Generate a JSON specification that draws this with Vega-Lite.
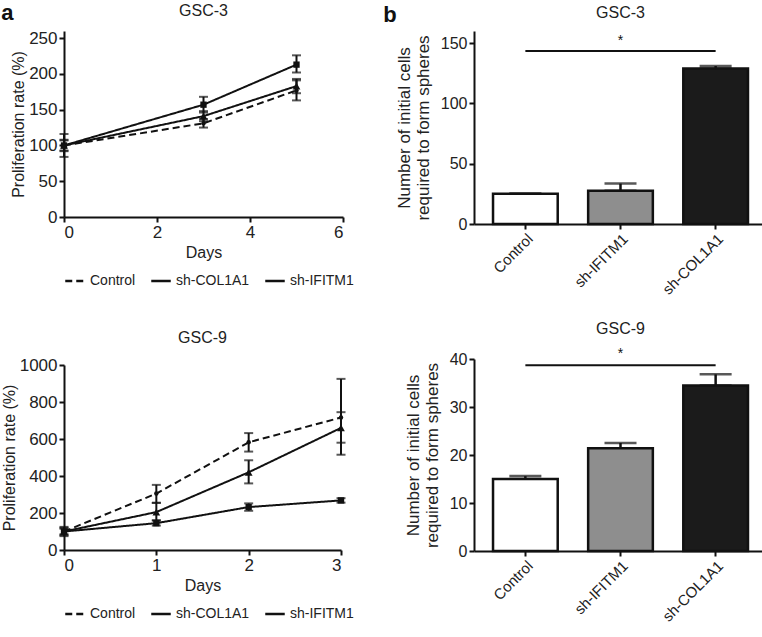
{
  "$schema": "https://vega.github.io/schema/vega-lite/v6.json",
  "background": "white",
  "padding": {"left": 1, "top": 2, "right": 0, "bottom": 2},
  "config": {
    "font": "Liberation Sans",
    "view": {"stroke": null},
    "axis": {"grid": false, "domainColor": "#111", "domainWidth": 2, "tickColor": "#111", "tickWidth": 2, "tickSize": 5, "labelColor": "#222", "titleColor": "#222", "labelFontSize": 17, "titleFontSize": 16, "titleFontWeight": "normal", "labelPadding": 2},
    "title": {"fontSize": 16, "fontWeight": "normal", "color": "#222", "offset": 10},
    "legend": {"labelFontSize": 14, "labelColor": "#222"}
  },
  "datasets": {
    "lines": [
      {"panel": "GSC-3", "series": "Control", "day": 0, "mean": 100, "lo": 92, "hi": 108},
      {"panel": "GSC-3", "series": "Control", "day": 3, "mean": 131, "lo": 125, "hi": 137},
      {"panel": "GSC-3", "series": "Control", "day": 5, "mean": 177, "lo": 163, "hi": 191},
      {"panel": "GSC-3", "series": "sh-COL1A1", "day": 0, "mean": 100, "lo": 93, "hi": 107},
      {"panel": "GSC-3", "series": "sh-COL1A1", "day": 3, "mean": 157, "lo": 146, "hi": 168},
      {"panel": "GSC-3", "series": "sh-COL1A1", "day": 5, "mean": 213, "lo": 202, "hi": 226},
      {"panel": "GSC-3", "series": "sh-IFITM1", "day": 0, "mean": 100, "lo": 84, "hi": 116},
      {"panel": "GSC-3", "series": "sh-IFITM1", "day": 3, "mean": 141, "lo": 134, "hi": 148},
      {"panel": "GSC-3", "series": "sh-IFITM1", "day": 5, "mean": 183, "lo": 173, "hi": 193},
      {"panel": "GSC-9", "series": "Control", "day": 0, "mean": 100, "lo": 75, "hi": 125},
      {"panel": "GSC-9", "series": "Control", "day": 1, "mean": 305, "lo": 255, "hi": 352},
      {"panel": "GSC-9", "series": "Control", "day": 2, "mean": 582, "lo": 532, "hi": 632},
      {"panel": "GSC-9", "series": "Control", "day": 3, "mean": 716, "lo": 515, "hi": 925},
      {"panel": "GSC-9", "series": "sh-COL1A1", "day": 0, "mean": 100, "lo": 85, "hi": 115},
      {"panel": "GSC-9", "series": "sh-COL1A1", "day": 1, "mean": 145, "lo": 132, "hi": 160},
      {"panel": "GSC-9", "series": "sh-COL1A1", "day": 2, "mean": 232, "lo": 212, "hi": 252},
      {"panel": "GSC-9", "series": "sh-COL1A1", "day": 3, "mean": 268, "lo": 256, "hi": 280},
      {"panel": "GSC-9", "series": "sh-IFITM1", "day": 0, "mean": 100, "lo": 80, "hi": 120},
      {"panel": "GSC-9", "series": "sh-IFITM1", "day": 1, "mean": 205, "lo": 160, "hi": 255},
      {"panel": "GSC-9", "series": "sh-IFITM1", "day": 2, "mean": 420, "lo": 360, "hi": 485},
      {"panel": "GSC-9", "series": "sh-IFITM1", "day": 3, "mean": 660, "lo": 580, "hi": 745}
    ],
    "bars": [
      {"panel": "GSC-3", "group": "Control", "mean": 25, "hi": 25},
      {"panel": "GSC-3", "group": "sh-IFITM1", "mean": 27.5, "hi": 33.5},
      {"panel": "GSC-3", "group": "sh-COL1A1", "mean": 129, "hi": 131},
      {"panel": "GSC-9", "group": "Control", "mean": 15, "hi": 15.6},
      {"panel": "GSC-9", "group": "sh-IFITM1", "mean": 21.4, "hi": 22.5},
      {"panel": "GSC-9", "group": "sh-COL1A1", "mean": 34.5, "hi": 36.8}
    ],
    "sig": [
      {"panel": "GSC-3", "from": "Control", "to": "sh-COL1A1", "mid": "sh-IFITM1", "y": 143.5, "ystar": 146, "label": "*"},
      {"panel": "GSC-9", "from": "Control", "to": "sh-COL1A1", "mid": "sh-IFITM1", "y": 38.7, "ystar": 39.6, "label": "*"}
    ]
  },
  "hconcat": [
    {
      "title": {"text": "a", "anchor": "start", "fontSize": 22, "fontWeight": "bold", "color": "#111", "offset": -22},
      "spacing": 42,
      "resolve": {"scale": {"strokeDash": "independent"}, "legend": {"strokeDash": "independent"}},
      "vconcat": [
        {
          "title": "GSC-3",
          "width": 279, "height": 186,
          "data": {"name": "lines"},
          "transform": [{"filter": "datum.panel === 'GSC-3'"}],
          "layer": [
            {
              "mark": {"type": "errorbar", "ticks": {"size": 9}, "thickness": 2, "color": "#111"},
              "encoding": {
                "x": {"field": "day", "type": "quantitative", "title": "Days", "scale": {"domain": [0, 6]}, "axis": {"values": [0, 2, 4, 6]}},
                "y": {"field": "lo", "type": "quantitative", "title": "Proliferation rate (%)", "scale": {"domain": [0, 250]}, "axis": {"values": [0, 50, 100, 150, 200, 250], "format": "d", "titlePadding": 2}},
                "y2": {"field": "hi"}
              }
            },
            {
              "mark": {"type": "line", "color": "#111", "strokeWidth": 2},
              "encoding": {
                "x": {"field": "day", "type": "quantitative", "title": "Days", "axis": {"values": [0, 2, 4, 6]}},
                "y": {"field": "mean", "type": "quantitative", "title": "Proliferation rate (%)", "axis": {"values": [0, 50, 100, 150, 200, 250], "format": "d", "titlePadding": 2}},
                "strokeDash": {"field": "series", "type": "nominal", "scale": {"domain": ["Control", "sh-COL1A1", "sh-IFITM1"], "range": [[7, 4], [1, 0], [1, 0]]}, "legend": {"title": null, "orient": "bottom", "direction": "horizontal", "symbolType": "stroke", "symbolStrokeWidth": 2.5, "symbolStrokeColor": "#111", "symbolSize": 380, "columnPadding": 10, "labelOffset": 4, "offset": 10}}
              }
            },
            {
              "mark": {"type": "point", "filled": true, "color": "#111", "opacity": 1},
              "encoding": {
                "x": {"field": "day", "type": "quantitative", "title": "Days", "axis": {"values": [0, 2, 4, 6]}},
                "y": {"field": "mean", "type": "quantitative", "title": "Proliferation rate (%)", "axis": {"values": [0, 50, 100, 150, 200, 250], "format": "d", "titlePadding": 2}},
                "shape": {"field": "series", "type": "nominal", "scale": {"domain": ["Control", "sh-COL1A1", "sh-IFITM1"], "range": ["circle", "square", "triangle-up"]}, "legend": null},
                "size": {"field": "series", "type": "nominal", "scale": {"domain": ["Control", "sh-COL1A1", "sh-IFITM1"], "range": [20, 60, 60]}, "legend": null}
              }
            }
          ]
        },
        {
          "title": "GSC-9",
          "width": 277, "height": 185,
          "data": {"name": "lines"},
          "transform": [{"filter": "datum.panel === 'GSC-9'"}],
          "layer": [
            {
              "mark": {"type": "errorbar", "ticks": {"size": 9}, "thickness": 2, "color": "#111"},
              "encoding": {
                "x": {"field": "day", "type": "quantitative", "title": "Days", "scale": {"domain": [0, 3]}, "axis": {"values": [0, 1, 2, 3], "format": "d"}},
                "y": {"field": "lo", "type": "quantitative", "title": "Proliferation rate (%)", "scale": {"domain": [0, 1000]}, "axis": {"values": [0, 200, 400, 600, 800, 1000], "format": "d", "titlePadding": 2}},
                "y2": {"field": "hi"}
              }
            },
            {
              "mark": {"type": "line", "color": "#111", "strokeWidth": 2},
              "encoding": {
                "x": {"field": "day", "type": "quantitative", "title": "Days", "axis": {"values": [0, 1, 2, 3], "format": "d"}},
                "y": {"field": "mean", "type": "quantitative", "title": "Proliferation rate (%)", "axis": {"values": [0, 200, 400, 600, 800, 1000], "format": "d", "titlePadding": 2}},
                "strokeDash": {"field": "series", "type": "nominal", "scale": {"domain": ["Control", "sh-COL1A1", "sh-IFITM1"], "range": [[7, 4], [1, 0], [1, 0]]}, "legend": {"title": null, "orient": "bottom", "direction": "horizontal", "symbolType": "stroke", "symbolStrokeWidth": 2.5, "symbolStrokeColor": "#111", "symbolSize": 380, "columnPadding": 10, "labelOffset": 4, "offset": 10}}
              }
            },
            {
              "mark": {"type": "point", "filled": true, "color": "#111", "opacity": 1},
              "encoding": {
                "x": {"field": "day", "type": "quantitative", "title": "Days", "axis": {"values": [0, 1, 2, 3], "format": "d"}},
                "y": {"field": "mean", "type": "quantitative", "title": "Proliferation rate (%)", "axis": {"values": [0, 200, 400, 600, 800, 1000], "format": "d", "titlePadding": 2}},
                "shape": {"field": "series", "type": "nominal", "scale": {"domain": ["Control", "sh-COL1A1", "sh-IFITM1"], "range": ["circle", "square", "triangle-up"]}, "legend": null},
                "size": {"field": "series", "type": "nominal", "scale": {"domain": ["Control", "sh-COL1A1", "sh-IFITM1"], "range": [20, 60, 60]}, "legend": null}
              }
            }
          ]
        }
      ]
    },
    {
      "title": {"text": "b", "anchor": "start", "fontSize": 22, "fontWeight": "bold", "color": "#111", "offset": -22, "dx": -12},
      "spacing": 22,
      "vconcat": [
        {
          "title": "GSC-3",
          "width": 293, "height": 193,
          "layer": [
            {
              "data": {"name": "bars"},
              "transform": [{"filter": "datum.panel === 'GSC-3'"}],
              "mark": {"type": "errorbar", "ticks": {"size": 32}, "thickness": 2.5, "color": "#111"},
              "encoding": {
                "x": {"field": "group", "type": "nominal", "title": null, "scale": {"domain": ["Control", "sh-IFITM1", "sh-COL1A1"], "paddingInner": 0.32, "paddingOuter": 0.2}, "axis": {"labelAngle": -45, "labelFontSize": 15}},
                "y": {"field": "mean", "type": "quantitative", "title": ["Number of initial cells", "required to form spheres"], "scale": {"domain": [0, 150]}, "axis": {"values": [0, 50, 100, 150], "labelFontSize": 16, "titleFontSize": 17, "titlePadding": 8}},
                "y2": {"field": "hi"}
              }
            },
            {
              "data": {"name": "bars"},
              "transform": [{"filter": "datum.panel === 'GSC-3'"}],
              "mark": {"type": "bar", "stroke": "#111", "strokeWidth": 2.5},
              "encoding": {
                "x": {"field": "group", "type": "nominal", "title": null, "axis": {"labelAngle": -45, "labelFontSize": 15}},
                "y": {"field": "mean", "type": "quantitative", "title": ["Number of initial cells", "required to form spheres"], "axis": {"values": [0, 50, 100, 150], "labelFontSize": 16, "titleFontSize": 17, "titlePadding": 8}},
                "fill": {"field": "group", "type": "nominal", "scale": {"domain": ["Control", "sh-IFITM1", "sh-COL1A1"], "range": ["#ffffff", "#8e8e8e", "#1b1b1b"]}, "legend": null}
              }
            },
            {
              "data": {"name": "sig"},
              "transform": [{"filter": "datum.panel === 'GSC-3'"}],
              "mark": {"type": "rule", "color": "#111", "strokeWidth": 2},
              "encoding": {
                "x": {"field": "from", "type": "nominal", "title": null},
                "x2": {"field": "to"},
                "y": {"field": "y", "type": "quantitative"}
              }
            },
            {
              "data": {"name": "sig"},
              "transform": [{"filter": "datum.panel === 'GSC-3'"}],
              "mark": {"type": "text", "color": "#111", "fontSize": 14, "baseline": "bottom"},
              "encoding": {
                "x": {"field": "mid", "type": "nominal", "title": null},
                "y": {"field": "ystar", "type": "quantitative"},
                "text": {"field": "label"}
              }
            }
          ]
        },
        {
          "title": "GSC-9",
          "width": 293, "height": 192,
          "layer": [
            {
              "data": {"name": "bars"},
              "transform": [{"filter": "datum.panel === 'GSC-9'"}],
              "mark": {"type": "errorbar", "ticks": {"size": 32}, "thickness": 2.5, "color": "#111"},
              "encoding": {
                "x": {"field": "group", "type": "nominal", "title": null, "scale": {"domain": ["Control", "sh-IFITM1", "sh-COL1A1"], "paddingInner": 0.32, "paddingOuter": 0.2}, "axis": {"labelAngle": -45, "labelFontSize": 15}},
                "y": {"field": "mean", "type": "quantitative", "title": ["Number of initial cells", "required to form spheres"], "scale": {"domain": [0, 40]}, "axis": {"values": [0, 10, 20, 30, 40], "labelFontSize": 16, "titleFontSize": 17, "titlePadding": 8}},
                "y2": {"field": "hi"}
              }
            },
            {
              "data": {"name": "bars"},
              "transform": [{"filter": "datum.panel === 'GSC-9'"}],
              "mark": {"type": "bar", "stroke": "#111", "strokeWidth": 2.5},
              "encoding": {
                "x": {"field": "group", "type": "nominal", "title": null, "axis": {"labelAngle": -45, "labelFontSize": 15}},
                "y": {"field": "mean", "type": "quantitative", "title": ["Number of initial cells", "required to form spheres"], "axis": {"values": [0, 10, 20, 30, 40], "labelFontSize": 16, "titleFontSize": 17, "titlePadding": 8}},
                "fill": {"field": "group", "type": "nominal", "scale": {"domain": ["Control", "sh-IFITM1", "sh-COL1A1"], "range": ["#ffffff", "#8e8e8e", "#1b1b1b"]}, "legend": null}
              }
            },
            {
              "data": {"name": "sig"},
              "transform": [{"filter": "datum.panel === 'GSC-9'"}],
              "mark": {"type": "rule", "color": "#111", "strokeWidth": 2},
              "encoding": {
                "x": {"field": "from", "type": "nominal", "title": null},
                "x2": {"field": "to"},
                "y": {"field": "y", "type": "quantitative"}
              }
            },
            {
              "data": {"name": "sig"},
              "transform": [{"filter": "datum.panel === 'GSC-9'"}],
              "mark": {"type": "text", "color": "#111", "fontSize": 14, "baseline": "bottom"},
              "encoding": {
                "x": {"field": "mid", "type": "nominal", "title": null},
                "y": {"field": "ystar", "type": "quantitative"},
                "text": {"field": "label"}
              }
            }
          ]
        }
      ]
    }
  ],
  "spacing": 29
}
